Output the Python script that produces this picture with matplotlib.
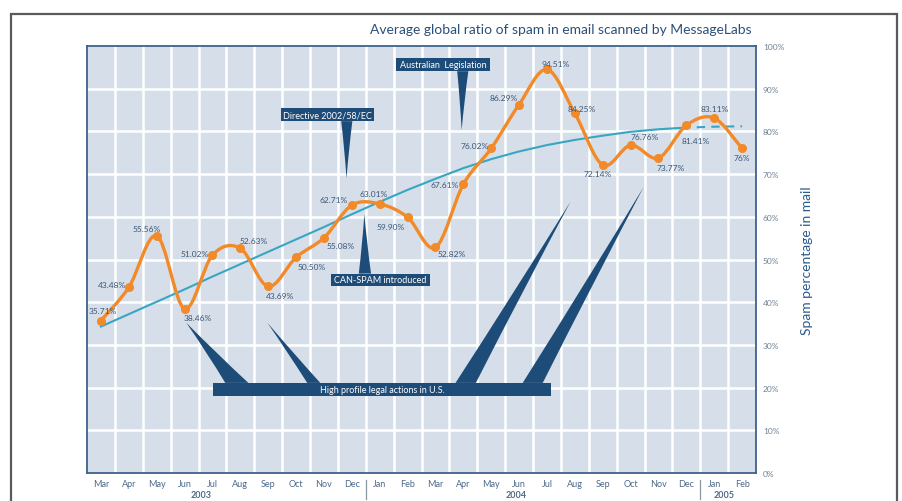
import numpy as np
import matplotlib
matplotlib.use("Agg")
import matplotlib.pyplot as plt
from matplotlib.path import Path
from matplotlib.patches import PathPatch, Rectangle

plt.rcParams['font.family'] = ['Lato', 'DejaVu Sans']

# 数据
months = ['Mar', 'Apr', 'May', 'Jun', 'Jul', 'Aug', 'Sep', 'Oct', 'Nov', 'Dec',
          'Jan', 'Feb', 'Mar', 'Apr', 'May', 'Jun', 'Jul', 'Aug', 'Sep', 'Oct', 'Nov', 'Dec',
          'Jan', 'Feb']
years = ['2003', '2004', '2005']
spam_ratio = [35.71, 43.48, 55.56, 38.46, 51.02, 52.63, 43.69, 50.50, 55.08, 62.71,
              63.01, 59.90, 52.82, 67.61, 76.02, 86.29, 94.51, 84.25, 72.14, 76.76, 73.77, 81.41,
              83.11, 76.0]
spam_labels = ['35.71%', '43.48%', '55.56%', '38.46%', '51.02%', '52.63%', '43.69%', '50.50%',
               '55.08%', '62.71%', '63.01%', '59.90%', '52.82%', '67.61%', '76.02%', '86.29%',
               '94.51%', '84.25%', '72.14%', '76.76%', '73.77%', '81.41%', '83.11%', '76%']
trend = [34.3, 37.2, 40.1, 43.0, 46.0, 48.9, 51.8, 54.7, 57.6, 60.6,
         63.5, 66.3, 68.9, 71.4, 73.5, 75.3, 76.8, 78.0, 79.0, 79.9, 80.5, 80.9,
         81.1, 81.2]
y_ticks = [0, 10, 20, 30, 40, 50, 60, 70, 80, 90, 100]

# 标签偏移 (像素)
label_offsets = [(2, 10), (-17, 3), (-10, 7), (13, -9), (-18, 2), (13, 8), (12, -9), (16, -9),
                 (17, -8), (-18, 6), (-6, 10), (-17, -9), (16, -6), (-19, 0), (-17, 3),
                 (-15, 7), (9, 6), (7, 5), (-5, -9), (14, 9), (12, -9), (9, -15), (1, 10),
                 (0, -9)]

NAVY = '#1e4c78'
ORANGE = '#f28a2a'
TEAL = '#38a6c2'
TXT = '#3a5676'

fig = plt.figure(figsize=(9.02, 5.02), dpi=100)
fig.patch.set_facecolor('white')

# 外框
fig.patches.append(Rectangle((11 / 902, -0.1), 886 / 902, 1.1 - 15 / 502,
                             transform=fig.transFigure, fill=False,
                             edgecolor='#5a5a5a', linewidth=1.6))

ax = fig.add_axes([87 / 902, 28 / 502, 669 / 902, 427 / 502])
ax.set_facecolor('#d6dfe9')
x = np.arange(len(months))
ax.set_xlim(-0.5, len(months) - 0.5)
ax.set_ylim(0, 100)

# 网格
for gx in np.arange(0.5, len(months) - 0.5, 1):
    ax.axvline(gx, color='white', lw=1.8, zorder=1)
for gy in y_ticks[1:-1]:
    ax.axhline(gy, color='white', lw=1.8, zorder=1)

for s in ax.spines.values():
    s.set_color('#3d628b')
    s.set_linewidth(1.3)

ax.set_xticks(x)
ax.set_xticklabels(months, fontsize=6.5, color='#4d6a8a')
ax.tick_params(axis='x', length=0, pad=4)
ax.yaxis.tick_right()
ax.set_yticks(y_ticks)
ax.set_yticklabels([f'{v}%' for v in y_ticks], fontsize=6, color='#6f8196')
ax.tick_params(axis='y', length=0, pad=5)
ax.yaxis.set_label_position('right')
ax.set_ylabel('Spam percentage in mail', fontsize=10, color='#2b5b8c', labelpad=12)

# 年份
year_pos = [3.6, 14.9, 22.35]
for yp, yr in zip(year_pos, years):
    ax.text(yp, -5, yr, ha='center', va='center', fontsize=6.5, fontweight='bold',
            color='#4d6a8a', clip_on=False)
for sep in [9.5, 21.5]:
    ax.plot([sep, sep], [-1.6, -6.2], color='#8a97a5', lw=0.9, clip_on=False)

# 趋势线
ax.plot(x[:22], trend[:22], color=TEAL, lw=1.5, zorder=3)
ax.plot(x[21:], trend[21:], color=TEAL, lw=1.5, zorder=3, linestyle=(2, (4, 3)))

# 平滑曲线 (Catmull-Rom -> Bezier)
pts = np.column_stack([x, spam_ratio]).astype(float)
verts = [tuple(pts[0])]
codes = [Path.MOVETO]
for i in range(len(pts) - 1):
    p0 = pts[max(i - 1, 0)]
    p1 = pts[i]
    p2 = pts[i + 1]
    p3 = pts[min(i + 2, len(pts) - 1)]
    c1 = p1 + (p2 - p0) / 6
    c2 = p2 - (p3 - p1) / 6
    verts += [tuple(c1), tuple(c2), tuple(p2)]
    codes += [Path.CURVE4] * 3
ax.add_patch(PathPatch(Path(verts, codes), facecolor='none', edgecolor=ORANGE,
                       lw=2.4, zorder=4, capstyle='round', joinstyle='round'))
ax.plot(x, spam_ratio, 'o', color=ORANGE, markersize=5.5, zorder=5)

for xi, yi, lab, (dx, dy) in zip(x, spam_ratio, spam_labels, label_offsets):
    ax.annotate(lab, (xi, yi), xytext=(dx * 0.72, dy * 0.72), textcoords='offset points',
                ha='center', va='center', fontsize=6, color=TXT, zorder=6)


def spike(base_l, base_r, tip, y0):
    """略带凹弧的尖角"""
    mx = (base_l + base_r) / 2
    cmx = (mx + tip[0]) / 2
    cmy = (y0 + tip[1]) / 2
    lx = ((base_l + tip[0]) / 2) * 0.75 + cmx * 0.25
    rx = ((base_r + tip[0]) / 2) * 0.75 + cmx * 0.25
    v = [(base_l, y0), (lx, cmy), tip, (rx, cmy), (base_r, y0), (base_l, y0)]
    c = [Path.MOVETO, Path.CURVE3, Path.CURVE3, Path.CURVE3, Path.CURVE3, Path.CLOSEPOLY]
    ax.add_patch(PathPatch(Path(v, c), facecolor=NAVY, edgecolor='none', zorder=7))


def callout(x0, x1, y0, y1, text):
    ax.add_patch(Rectangle((x0, y0), x1 - x0, y1 - y0, facecolor=NAVY,
                           edgecolor='none', zorder=7))
    ax.text((x0 + x1) / 2, (y0 + y1) / 2, text, ha='center', va='center',
            fontsize=6.5, color='white', zorder=8)


callout(6.47, 9.78, 82.4, 85.4, 'Directive 2002/58/EC')
spike(8.62, 9.02, (8.81, 69.0), 82.4)

callout(10.6, 13.94, 94.1, 97.2, 'Australian  Legislation')
spike(12.78, 13.18, (12.94, 80.3), 94.1)

callout(8.27, 11.79, 43.9, 46.7, 'CAN-SPAM introduced')
spike(9.25, 9.69, (9.45, 60.6), 46.7)

callout(4.03, 16.14, 18.1, 21.1, 'High profile legal actions in U.S.')
spike(4.46, 5.29, (3.06, 35.2), 21.1)
spike(7.4, 7.87, (5.97, 35.2), 21.1)
spike(12.72, 13.45, (16.85, 63.6), 21.1)
spike(15.13, 15.85, (19.48, 67.1), 21.1)

fig.text(752 / 902, 1 - 30 / 502, 'Average global ratio of spam in email scanned by MessageLabs',
         ha='right', va='center', fontsize=10, color='#2c4f78')

fig.savefig('out.png', dpi=100)
